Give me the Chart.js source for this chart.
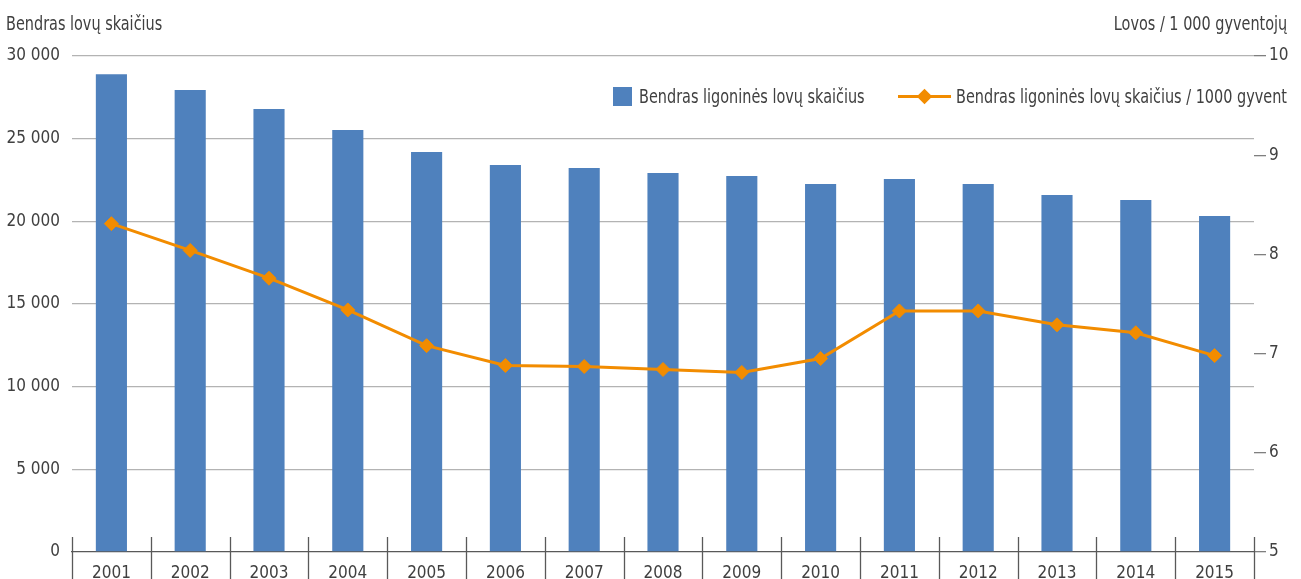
<!DOCTYPE html>
<html>
<head>
<meta charset="utf-8">
<script src="https://cdn.jsdelivr.net/npm/chart.js@4.4.1/dist/chart.umd.min.js"></script>
<style>
  html, body { margin: 0; padding: 0; background: #ffffff; overflow: hidden; }
  #wrap { position: relative; width: 1301px; height: 579px; }
  #c { position: absolute; left: 0; top: 0; }
  .txt { position: absolute; font-family: "Liberation Sans Narrow", "DejaVu Sans Condensed", "Arial Narrow", sans-serif; font-size: 19px; line-height: 19px; color: #404040; white-space: nowrap; transform: scaleX(0.845); transform-origin: left top; }
  #tl { left: 6px; top: 14px; }
  #tr { right: 14px; top: 14px; transform-origin: right top; }
  #legend { position: absolute; left: 613px; top: 87px; height: 19px; white-space: nowrap; }
  .item { position: absolute; top: 0; height: 19px; }
  .sq { position: absolute; top: 0px; width: 19px; height: 19px; }
  .ln { position: absolute; top: 8px; height: 3px; }
  .dm { position: absolute; width: 11px; height: 11px; transform: rotate(45deg); top: 3.5px; }
</style>
</head>
<body>
<div id="wrap">
  <canvas id="c" width="1301" height="579"></canvas>
  <div class="txt" id="tl"></div>
  <div class="txt" id="tr"></div>
  <div id="legend"></div>
</div>
<script>
const years = ["2001","2002","2003","2004","2005","2006","2007","2008","2009","2010","2011","2012","2013","2014","2015"];
const totalBeds = [28900, 27950, 26800, 25520, 24190, 23400, 23230, 22920, 22740, 22260, 22560, 22260, 21590, 21290, 20320];
const bedsPer1000 = [8.31, 8.04, 7.76, 7.44, 7.08, 6.88, 6.87, 6.84, 6.81, 6.95, 7.43, 7.43, 7.29, 7.21, 6.98];
const leftTitle = "Bendras lovų skaičius";
const rightTitle = "Lovos / 1 000 gyventojų";
const barLabel = "Bendras ligoninės lovų skaičius";
const lineLabel = "Bendras ligoninės lovų skaičius / 1000 gyvent";
const leftTicks = [0, 5000, 10000, 15000, 20000, 25000, 30000];
const rightTicks = [5, 6, 7, 8, 9, 10];

const FONT = '"Liberation Sans Narrow", "DejaVu Sans Condensed", "Arial Narrow", sans-serif';
const FS = 17;
const TEXT = '#404040';
const BLUE = '#4f81bd';
const ORANGE = '#f28c00';

document.getElementById('tl').textContent = leftTitle;
document.getElementById('tr').textContent = rightTitle;

function fmt(v) { return String(v).replace(/\B(?=(\d{3})+(?!\d))/g, ' '); }

const boundaryTicks = {
  id: 'boundaryTicks',
  afterDraw(chart) {
    const xs = chart.scales.x;
    const n = years.length;
    const step = xs.getPixelForValue(1) - xs.getPixelForValue(0);
    const ctx = chart.ctx;
    const b = chart.chartArea.bottom;
    ctx.save();
    ctx.strokeStyle = '#595959';
    ctx.lineWidth = 1.3;
    for (let i = 0; i <= n; i++) {
      const x = Math.round(xs.getPixelForValue(0) - step / 2 + i * step) + 0.5;
      ctx.beginPath();
      ctx.moveTo(x, b - 15);
      ctx.lineTo(x, chart.height);
      ctx.stroke();
    }
    ctx.restore();
  }
};

const chart = new Chart(document.getElementById('c'), {
  data: {
    labels: years,
    datasets: [
      {
        type: 'line',
        label: lineLabel,
        data: bedsPer1000,
        yAxisID: 'y1',
        borderColor: ORANGE,
        backgroundColor: ORANGE,
        borderWidth: 3,
        pointStyle: 'rectRot',
        pointRadius: 7,
        pointBorderWidth: 1,
        pointBackgroundColor: ORANGE,
        pointBorderColor: ORANGE,
        tension: 0,
        order: 0
      },
      {
        type: 'bar',
        label: barLabel,
        data: totalBeds,
        yAxisID: 'y',
        backgroundColor: BLUE,
        borderWidth: 0,
        barPercentage: 1,
        categoryPercentage: 0.395,
        order: 1
      }
    ]
  },
  options: {
    responsive: false,
    animation: false,
    devicePixelRatio: 1,
    layout: { padding: { top: 56, left: 0, right: 0, bottom: 0 } },
    plugins: { legend: { display: false }, tooltip: { enabled: false } },
    scales: {
      x: {
        offset: true,
        grid: { display: false, drawTicks: false },
        border: { display: true, color: '#595959', width: 1.3 },
        ticks: { color: TEXT, font: { family: FONT, size: FS }, padding: 11, maxRotation: 0 },
        afterFit(s) { s.height = 27; }
      },
      y: {
        position: 'left',
        min: 0, max: 30000,
        afterBuildTicks(s) { s.ticks = leftTicks.map(v => ({ value: v })); },
        grid: { drawTicks: false, color: (c) => c.tick && c.tick.value === 0 ? 'rgba(0,0,0,0)' : '#b3b3b3', lineWidth: 1.3 },
        border: { display: false },
        ticks: { color: TEXT, font: { family: FONT, size: FS }, padding: 12, callback: (v) => fmt(v) },
        afterFit(s) { s.width = 72; }
      },
      y1: {
        position: 'right',
        min: 5, max: 10,
        afterBuildTicks(s) { s.ticks = rightTicks.map(v => ({ value: v })); },
        grid: { drawOnChartArea: false, drawTicks: true, tickLength: 12, color: '#7f7f7f', lineWidth: 1.3 },
        border: { display: false },
        ticks: { color: TEXT, font: { family: FONT, size: FS }, padding: 3 },
        afterFit(s) { s.width = 47; }
      }
    }
  },
  plugins: [boundaryTicks]
});

// HTML legend built from the chart's datasets
const lg = document.getElementById('legend');
const barDs = chart.data.datasets[1];
const lineDs = chart.data.datasets[0];
const i1 = document.createElement('div'); i1.className = 'item'; i1.style.left = '0px';
i1.innerHTML = '<div class="sq" style="left:0;background:' + barDs.backgroundColor + '"></div><div class="txt" style="left:26px;top:0"></div>';
i1.querySelector('.txt').textContent = barDs.label;
const i2 = document.createElement('div'); i2.className = 'item'; i2.style.left = '285px';
i2.innerHTML = '<div class="ln" style="left:0;width:53px;background:' + lineDs.borderColor + '"></div><div class="dm" style="left:21px;background:' + lineDs.borderColor + '"></div><div class="txt" style="left:58px;top:0"></div>';
i2.querySelector('.txt').textContent = lineDs.label;
lg.appendChild(i1); lg.appendChild(i2);
</script>
</body>
</html>
